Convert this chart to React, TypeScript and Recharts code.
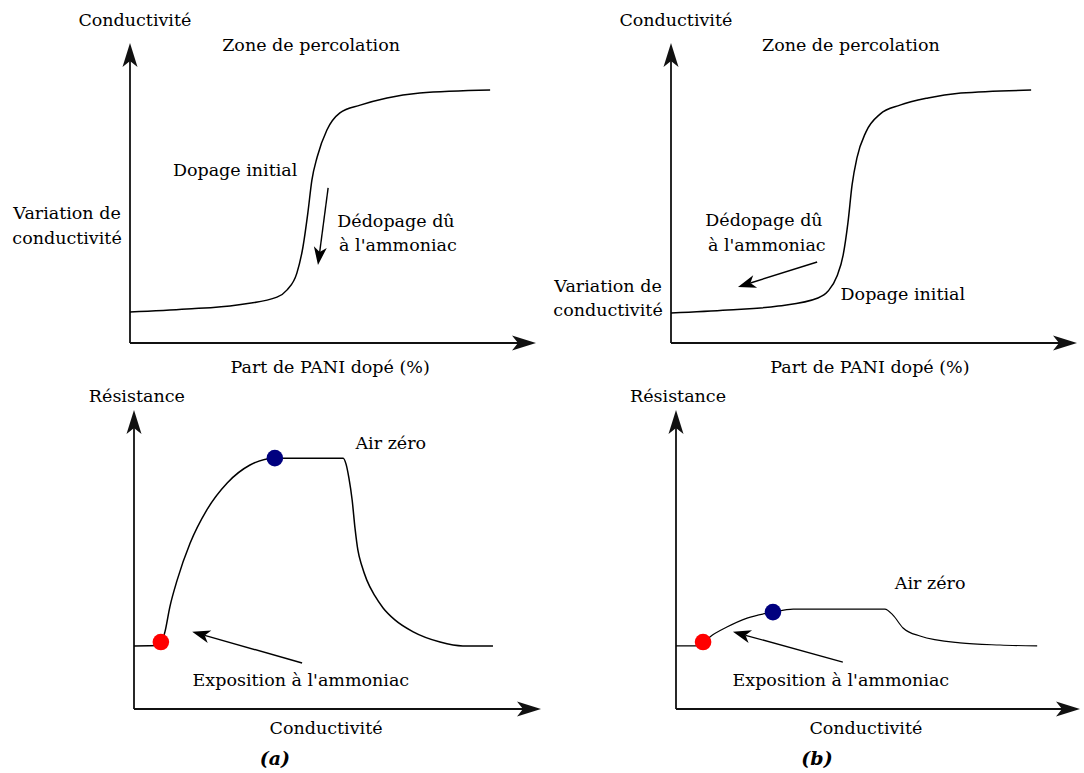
import React from 'react';
import { LineChart, Line, XAxis, YAxis, ReferenceLine, ReferenceDot } from 'recharts';

const W = 1084;
const H = 773;
const FONT = "'DejaVu Serif', 'Liberation Serif', serif";
const FS = 17.5;

// ---- Top (a): conductivity vs doped PANI (percolation curve)
const percoA_x = [0, 14.0, 26.4, 36.2, 38.7, 41.1, 42.6, 43.8, 44.8, 46.1, 48.5, 51.7, 56.7, 63.3, 71.4, 88.7];
const percoA_y = [10.3, 11.3, 12.7, 15.3, 17.7, 23.3, 32.0, 43.3, 54.3, 62.0, 71.0, 76.7, 79.3, 81.7, 83.3, 84.3];

// ---- Top (b)
const percoB_x = [0, 14.0, 26.4, 36.2, 38.7, 40.9, 42.4, 43.6, 44.6, 45.8, 48.0, 51.5, 56.4, 63.3, 71.4, 88.7];
const percoB_y = [10.0, 11.0, 12.3, 15.0, 17.3, 22.3, 29.3, 40.3, 52.7, 61.7, 70.3, 76.3, 79.3, 81.7, 83.3, 84.3];

// ---- Bottom (a): resistance response
const respA_x = [0, 6.4, 7.6, 8.8, 10.6, 13.8, 17.9, 22.9, 28.5, 34.6, 51.4, 52.1, 52.8, 53.6, 54.3, 55.0, 56.0, 57.2, 59.2, 61.2, 64.1, 68.6, 75.2, 80.8, 88.2];
const respA_y = [21.1, 21.2, 25.8, 34.1, 43.1, 55.5, 66.6, 75.6, 81.6, 83.9, 83.9, 81.9, 77.3, 69.9, 60.5, 53.2, 47.8, 43.1, 37.8, 33.8, 29.8, 25.8, 22.4, 21.1, 21.1];

// ---- Bottom (b)
const respB_x = [0, 6.0, 8.4, 12.6, 17.6, 24.0, 29.0, 37.4, 51.7, 53.7, 56.2, 60.4, 70.3, 80.2, 89.4];
const respB_y = [21.1, 21.1, 24.1, 27.4, 30.4, 32.4, 33.4, 33.4, 33.4, 31.4, 27.1, 24.4, 22.1, 21.4, 21.1];

// exposure (red) and saturation (blue) markers
const exposureA = { x: 6.6, y: 22.4 };
const saturationA = { x: 34.6, y: 83.9 };
const exposureB = { x: 6.7, y: 22.4 };
const saturationB = { x: 24.0, y: 32.4 };

const zip = (xs: number[], ys: number[]) => xs.map((x, i) => ({ x, y: ys[i] }));

const arrowShape = (len: number, half: number, notch: number, stroke: string, sw: number) => (p: any) => {
  const { x1, y1, x2, y2 } = p;
  const ang = Math.atan2(y2 - y1, x2 - x1);
  const c = Math.cos(ang);
  const s = Math.sin(ang);
  const pt = (u: number, v: number) => `${x2 + u * c - v * s},${y2 + u * s + v * c}`;
  const pts = [pt(0, 0), pt(-len, -half), pt(-len + notch, 0), pt(-len, half)].join(' ');
  const bx = x2 - (len - notch) * c;
  const by = y2 - (len - notch) * s;
  return (
    <g>
      <line x1={x1} y1={y1} x2={bx} y2={by} stroke={stroke} strokeWidth={sw} />
      <polygon points={pts} fill={stroke} />
    </g>
  );
};

const textShape = (label: string, extra: any = {}) => (p: any) => (
  <text
    x={p.cx}
    y={p.cy}
    textAnchor="middle"
    dominantBaseline="central"
    fontFamily={FONT}
    fontSize={FS}
    fill="#000"
    {...extra}
  >
    {label}
  </text>
);

type TextItem = { t: string; x: number; y: number; extra?: any };
type ArrowItem = { from: [number, number]; to: [number, number] };
type PanelProps = {
  margin: { top: number; left: number; right: number; bottom: number };
  curve: { x: number; y: number }[];
  curveWidth: number;
  red: { x: number; y: number };
  blue: { x: number; y: number };
  arrows: ArrowItem[];
  texts: TextItem[];
  hasDots: boolean;
};

const axisArrow = arrowShape(24, 7.5, 6, '#111', 1.8);
const noteArrow = arrowShape(18, 6.5, 5, '#000', 1.4);

function Panel({ margin, curve, curveWidth, red, blue, arrows, texts, hasDots }: PanelProps) {
  return (
    <div style={{ position: 'absolute', left: 0, top: 0 }}>
      <LineChart width={W} height={H} margin={margin}>
        <XAxis type="number" dataKey="x" domain={[0, 100]} hide allowDataOverflow />
        <YAxis type="number" dataKey="y" domain={[0, 100]} hide allowDataOverflow />
        <ReferenceLine segment={[{ x: 0, y: 0 }, { x: 100, y: 0 }]} shape={axisArrow} ifOverflow="visible" />
        <ReferenceLine segment={[{ x: 0, y: 0 }, { x: 0, y: 100 }]} shape={axisArrow} ifOverflow="visible" />
        <Line
          data={curve}
          dataKey="y"
          type="monotone"
          stroke="#000"
          strokeWidth={curveWidth}
          dot={false}
          activeDot={false}
          isAnimationActive={false}
        />
        {arrows.map((a, i) => (
          <ReferenceLine
            key={'ar' + i}
            segment={[{ x: a.from[0], y: a.from[1] }, { x: a.to[0], y: a.to[1] }]}
            shape={noteArrow}
            ifOverflow="visible"
          />
        ))}
        {hasDots && (
          <ReferenceDot x={red.x} y={red.y} r={8.3} fill="#ff0000" stroke="none" ifOverflow="visible" />
        )}
        {hasDots && (
          <ReferenceDot x={blue.x} y={blue.y} r={8.3} fill="#00007f" stroke="none" ifOverflow="visible" />
        )}
        {texts.map((tx, i) => (
          <ReferenceDot key={'tx' + i} x={tx.x} y={tx.y} r={0} ifOverflow="visible" shape={textShape(tx.t, tx.extra)} />
        ))}
      </LineChart>
    </div>
  );
}

const capStyle = { fontWeight: 'bold', fontStyle: 'italic', fontSize: 19 };

export default function App() {
  return (
    <div style={{ position: 'absolute', left: 0, top: 0, width: W, height: H, background: '#fff' }}>
      <Panel
        margin={{ top: 43, left: 130, right: W - 536, bottom: H - 343 }}
        curve={zip(percoA_x, percoA_y)}
        curveWidth={1.5}
        red={exposureA}
        blue={saturationA}
        hasDots={false}
        arrows={[{ from: [48.8, 51.7], to: [46.3, 26.0] }]}
        texts={[
          { t: 'Conductivité', x: 1.2, y: 107.7 },
          { t: 'Zone de percolation', x: 44.6, y: 99.3 },
          { t: 'Dopage initial', x: 25.9, y: 57.7 },
          { t: 'Variation de', x: -15.5, y: 43.3 },
          { t: 'conductivité', x: -15.5, y: 35.0 },
          { t: 'Dédopage dû', x: 65.5, y: 40.7 },
          { t: "à l'ammoniac", x: 66.0, y: 32.7 },
          { t: 'Part de PANI dopé (%)', x: 49.3, y: -8.0 },
        ]}
      />
      <Panel
        margin={{ top: 43, left: 671, right: W - 1077, bottom: H - 343 }}
        curve={zip(percoB_x, percoB_y)}
        curveWidth={1.5}
        red={exposureB}
        blue={saturationB}
        hasDots={false}
        arrows={[{ from: [36.0, 27.0], to: [16.5, 18.7] }]}
        texts={[
          { t: 'Conductivité', x: 1.2, y: 107.7 },
          { t: 'Zone de percolation', x: 44.3, y: 99.3 },
          { t: 'Dédopage dû', x: 22.9, y: 41.0 },
          { t: "à l'ammoniac", x: 23.6, y: 32.7 },
          { t: 'Variation de', x: -15.5, y: 19.0 },
          { t: 'conductivité', x: -15.5, y: 11.0 },
          { t: 'Dopage initial', x: 57.1, y: 16.3 },
          { t: 'Part de PANI dopé (%)', x: 49.0, y: -8.0 },
        ]}
      />
      <Panel
        margin={{ top: 410, left: 134, right: W - 541, bottom: H - 709 }}
        curve={zip(respA_x, respA_y)}
        curveWidth={1.5}
        red={exposureA}
        blue={saturationA}
        hasDots={true}
        arrows={[{ from: [41.3, 15.4], to: [14.3, 25.8] }]}
        texts={[
          { t: 'Résistance', x: 0.7, y: 104.7 },
          { t: 'Air zéro', x: 63.1, y: 89.0 },
          { t: "Exposition à l'ammoniac", x: 41.0, y: 9.7 },
          { t: 'Conductivité', x: 47.2, y: -6.4 },
          { t: '(a)', x: 34.6, y: -16.5, extra: capStyle },
        ]}
      />
      <Panel
        margin={{ top: 410, left: 676, right: W - 1080, bottom: H - 709 }}
        curve={zip(respB_x, respB_y)}
        curveWidth={1.2}
        red={exposureB}
        blue={saturationB}
        hasDots={true}
        arrows={[{ from: [41.3, 15.7], to: [14.1, 25.8] }]}
        texts={[
          { t: 'Résistance', x: 0.5, y: 104.7 },
          { t: 'Air zéro', x: 62.9, y: 42.1 },
          { t: "Exposition à l'ammoniac", x: 40.8, y: 9.7 },
          { t: 'Conductivité', x: 47.0, y: -6.4 },
          { t: '(b)', x: 34.9, y: -16.5, extra: capStyle },
        ]}
      />
    </div>
  );
}
